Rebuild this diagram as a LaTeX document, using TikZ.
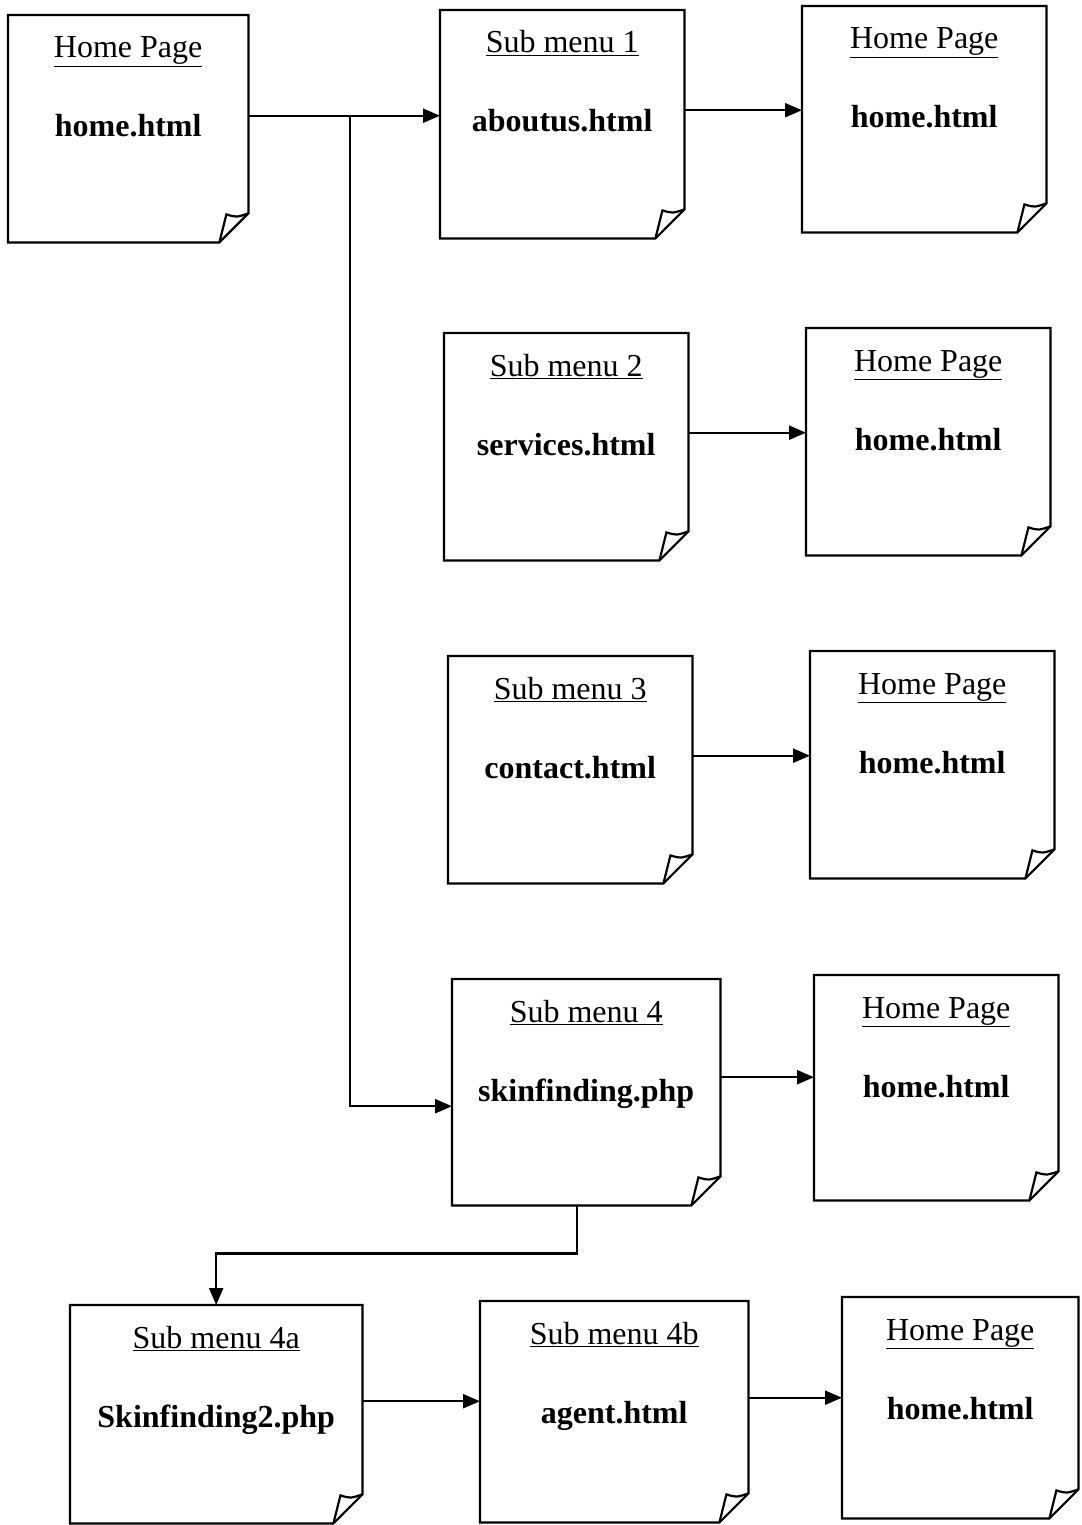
\documentclass[tikz,border=0pt]{standalone}
\usepackage{fontspec}
\setmainfont{Liberation Serif}
\usetikzlibrary{arrows.meta,calc}
\begin{document}
\begin{tikzpicture}[x=1pt,y=-1pt,
  pagebox/.style={draw=none, rectangle, inner sep=0pt, anchor=north west},
  titletext/.style={anchor=base, inner sep=0pt, font=\fontsize{32}{38}\selectfont},
  filetext/.style={anchor=base, inner sep=0pt, font=\fontsize{32}{38}\selectfont\bfseries},
  outline/.style={line width=2.2pt, line join=miter},
  arr/.style={line width=2.2pt, -{Triangle[length=17pt,width=14pt]}}]
\useasboundingbox (0,0) rectangle (1081,1525);
\foreach \n/\x/\y/\w/\h/\t/\f in {
  h0/8/15/240/227/Home Page/home.html,
  sm1/440/10/244/228/Sub menu 1/aboutus.html,
  hp1/802/6/244/226/Home Page/home.html,
  sm2/444/333/244/227/Sub menu 2/services.html,
  hp2/806/328/244/227/Home Page/home.html,
  sm3/448/656/244/227/Sub menu 3/contact.html,
  hp3/810/651/244/227/Home Page/home.html,
  sm4/452/979/268/226/Sub menu 4/skinfinding.php,
  hp4/814/975/244/225/Home Page/home.html,
  sm4a/70/1305/292/218/Sub menu 4a/Skinfinding2.php,
  sm4b/480/1301/268/221/Sub menu 4b/agent.html,
  hp5/842/1297/236/221/Home Page/home.html}{
  \node[pagebox, minimum width=\w pt, minimum height=\h pt] (\n) at (\x,\y) {};
  \node[titletext] (\n-t) at ($(\n.north)+(0,-43pt)$) {\underline{\t}};
  \node[filetext] (\n-f) at ($(\n.north)+(0,-122pt)$) {\f};
  \draw[outline] (\n.north west) -- (\n.north east) -- ([yshift=29pt]\n.south east)
     -- ([xshift=-29pt]\n.south east) -- (\n.south west) -- cycle;
  \draw[outline] ([yshift=29pt]\n.south east)
     .. controls ([xshift=-12pt,yshift=25pt]\n.south east) .. ([xshift=-22pt,yshift=28pt]\n.south east)
     -- ([xshift=-29pt]\n.south east);
}
% main trunk
\draw[arr] ([yshift=13pt]h0.east) coordinate (s0) -- (s0 -| sm1.west);
\coordinate (j) at (350,115);
\draw[arr] (j) |- ([yshift=-14pt]sm4.west);
% to home pages
\draw[arr] ([yshift=14pt]sm1.east) coordinate (a1) -- (a1 -| hp1.west);
\draw[arr] ([yshift=14pt]sm2.east) coordinate (a2) -- (a2 -| hp2.west);
\draw[arr] ([yshift=14pt]sm3.east) coordinate (a3) -- (a3 -| hp3.west);
\draw[arr] ([yshift=15pt]sm4.east) coordinate (a4) -- (a4 -| hp4.west);
% sub menu 4 down to 4a
\draw[arr] ([xshift=-9pt]sm4.south) -- ++(0,48) -| (sm4a.north);
\draw[arr] ([yshift=13pt]sm4a.east) coordinate (a5) -- (a5 -| sm4b.west);
\draw[arr] ([yshift=14pt]sm4b.east) coordinate (a6) -- (a6 -| hp5.west);
\end{tikzpicture}
\end{document}
